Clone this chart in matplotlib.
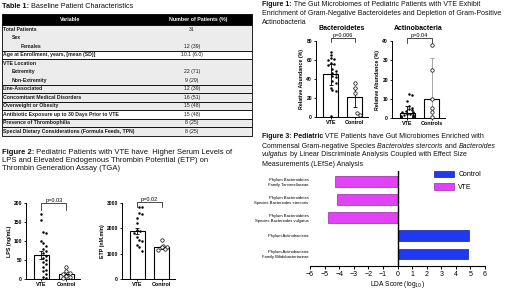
import numpy as np
import matplotlib
matplotlib.use("Agg")
import matplotlib.pyplot as plt
from matplotlib.patches import Rectangle, Patch

plt.rcParams["font.family"] = ["Liberation Sans", "DejaVu Sans"]

W, H = 520, 292

# ---- Table 1 ----
table_vars = [
    "Total Patients", "Sex", "Females",
    "Age at Enrollment, years, [mean (SD)]",
    "VTE Location", "Extremity", "Non-Extremity",
    "Line-Associated", "Concomitant Medical Disorders", "Overweight or Obesity",
    "Antibiotic Exposure up to 30 Days Prior to VTE",
    "Presence of Thrombophilia",
    "Special Dietary Considerations (Formula Feeds, TPN)",
]
table_indent = [0, 1, 2, 0, 0, 1, 1, 0, 0, 0, 0, 0, 0]
table_vals = ["31", "", "12 (39)", "10.1 (6.0)", "", "22 (71)", "9 (29)",
              "12 (39)", "16 (51)", "15 (48)", "15 (48)", "8 (25)", "8 (25)"]
table_groups = [[0, 1, 2], [3], [4, 5, 6], [7], [8], [9], [10], [11], [12]]
white_rows = [3, 10]

# ---- Figure 1 ----
bact_vte = [68, 65, 62, 61, 60, 57, 56, 55, 50, 48, 46, 45, 43, 42, 38, 36, 30, 28, 27, 1]
bact_ctrl = [36, 30, 25, 4, 2]
bact_mean = [45, 21]
bact_err = [11, 10]

actino_vte = [12.5, 12, 9, 6, 5, 4.5, 4, 3.5, 3, 3, 2.5, 2, 2, 1.5, 1.5, 1, 1, 0.5, 0.5, 0.3]
actino_ctrl = [38, 25, 10, 5, 3, 0.5]
actino_mean = [2.5, 10]
actino_err = [3.5, 21]

# ---- Figure 2 ----
lps_vte = [172, 155, 125, 120, 100, 95, 88, 80, 75, 68, 60, 55, 50, 45, 40, 32, 25, 20, 12, 5, 2]
lps_ctrl = [32, 20, 17, 12, 8, 5, 2]
lps_mean = [63, 14]
lps_err = [10, 4]

etp_vte = [2850, 2850, 2600, 2580, 2400, 2200, 1950, 1900, 1800, 1650, 1550, 1500, 1350, 1250, 1100]
etp_ctrl = [1550, 1300, 1280, 1250, 1200, 1150]
etp_mean = [1900, 1250]
etp_err = [130, 70]

# ---- Figure 3 ----
lefse_labels = [
    "Phylum Bacteroidetes\nFamily Tannerellaceae",
    "Phylum Bacteroidetes\nSpecies Bacteriodes stercoris",
    "Phylum Bacteroidetes\nSpecies Bacteriodes vulgatus",
    "Phylum Actinobacteria",
    "Phylum Actinobacteria\nFamily Bifidobacteriaceae",
]
lefse_scores = [-4.3, -4.15, -4.75, 4.9, 4.85]
lefse_group = ["VTE", "VTE", "VTE", "Control", "Control"]
group_colors = {"Control": "#1f38f2", "VTE": "#e142f5"}
group_edges = {"Control": "#1020a0", "VTE": "#9a2aa8"}

fig = plt.figure(figsize=(W / 100, H / 100), dpi=100)
fig.patch.set_facecolor("white")

bg = fig.add_axes([0, 0, 1, 1])
bg.set_xlim(0, W)
bg.set_ylim(H, 0)
bg.axis("off")

renderer = fig.canvas.get_renderer()


def px_axes(x0, y0, x1, y1):
    return fig.add_axes([x0 / W, 1 - y1 / H, (x1 - x0) / W, (y1 - y0) / H])


def rich_line(x, y, parts, size):
    for s, w, st in parts:
        t = bg.text(x, y, s, fontsize=size, fontweight=w, fontstyle=st,
                    va="center", ha="left", color="#111111")
        x += t.get_window_extent(renderer).width


# titles
rich_line(2, 6, [("Table 1:", "bold", "normal"), (" Baseline Patient Characteristics", "normal", "normal")], 5.2)
rich_line(262, 5, [("Figure 1:", "bold", "normal"),
                   (" The Gut Microbiomes of Pediatric Patients with VTE Exhibit", "normal", "normal")], 5)
rich_line(262, 13.5, [("Enrichment of Gram-Negative Bacteroidetes and Depletion of Gram-Positive", "normal", "normal")], 5)
rich_line(262, 22, [("Actinobacteria", "normal", "normal")], 5)

rich_line(2, 153, [("Figure 2:", "bold", "normal"),
                   (" Pediatric Patients with VTE have  Higher Serum Levels of", "normal", "normal")], 5.5)
rich_line(2, 161, [("LPS and Elevated Endogenous Thrombin Potential (ETP) on", "normal", "normal")], 5.5)
rich_line(2, 169, [("Thrombin Generation Assay (TGA)", "normal", "normal")], 5.5)

rich_line(262, 137, [("Figure 3: Pediatric", "bold", "normal"),
                     (" VTE Patients have Gut Microbiomes Enriched with", "normal", "normal")], 5)
rich_line(262, 146, [("Commensal Gram-negative Species ", "normal", "normal"),
                     ("Bacteroides stercoris", "normal", "italic"),
                     (" and ", "normal", "normal"),
                     ("Bacteroides", "normal", "italic")], 5)
rich_line(262, 155, [("vulgatus", "normal", "italic"),
                     (" by Linear Discriminate Analysis Coupled with Effect Size", "normal", "normal")], 5)
rich_line(262, 164, [("Measurements (LEfSe) Analysis", "normal", "normal")], 5)

# ---- table ----
tx0, tx1 = 2, 252
top, head_h, row_h = 14, 11, 8.5
bg.add_patch(Rectangle((tx0, top), tx1 - tx0, head_h, facecolor="black", edgecolor="black", lw=0.6))
bg.text(70, top + head_h / 2, "Variable", color="white", fontsize=3.8, fontweight="bold", ha="center", va="center")
bg.text(198, top + head_h / 2, "Number of Patients (%)", color="white", fontsize=3.8, fontweight="bold",
        ha="center", va="center")
body_top = top + head_h
for grp in table_groups:
    y0 = body_top + grp[0] * row_h
    fc = "white" if grp[0] in white_rows else "#ececec"
    bg.add_patch(Rectangle((tx0, y0), tx1 - tx0, row_h * len(grp), facecolor=fc, edgecolor="black", lw=0.6))
for i, (name, ind, val) in enumerate(zip(table_vars, table_indent, table_vals)):
    yc = body_top + (i + 0.5) * row_h
    bg.text(3 + 9 * ind, yc, name, fontsize=3.7, fontweight="bold", ha="left", va="center", color="#1a1a1a")
    bg.text(192, yc, val, fontsize=3.7, ha="center", va="center", color="#1a1a1a")


# ---- dot-bar panels ----
def swarm_x(vals, center, step, binw, half):
    # points in the same height band are spread out from the centre, alternating sides
    vals = np.asarray(vals, float)
    bins = np.floor(vals / binw).astype(int)
    xs = np.full(len(vals), float(center))
    for b in np.unique(bins):
        idx = np.where(bins == b)[0]
        for k, i in enumerate(idx):
            off = ((k + 1) // 2) * step * (1 if k % 2 else -1)
            if len(idx) % 2 == 0:
                off += step / 2
            xs[i] = center + np.clip(off, -half, half)
    return xs


def dot_bar(ax, vte, ctrl, means, errs, ymax, yticks, ylabel, xlabels, ptext, pbar, ctrl_err_color="black"):
    ax.bar([0, 1], means, width=0.62, facecolor="white", edgecolor="black", lw=0.8, zorder=1)
    ax.errorbar([0], [means[0]], yerr=[errs[0]], fmt="none", ecolor="black", elinewidth=0.6, capsize=1.5,
                capthick=0.6, zorder=3)
    ax.errorbar([1], [means[1]], yerr=[errs[1]], fmt="none", ecolor=ctrl_err_color, elinewidth=0.6,
                capsize=1.5, capthick=0.6, zorder=3)
    binw = ymax * 0.06
    ax.scatter(swarm_x(vte, 0, 0.13, binw, 0.25), vte, s=3.2, color="black", zorder=4, linewidths=0,
               clip_on=False)
    ax.scatter(swarm_x(ctrl, 1, 0.15, binw, 0.25), ctrl, s=6, facecolor="white", edgecolor="black",
               linewidths=0.5, zorder=4, clip_on=False)
    ax.set_xlim(-0.62, 1.55)
    ax.set_ylim(0, ymax)
    ax.set_yticks(yticks)
    ax.set_xticks([0, 1])
    ax.set_xticklabels(xlabels, fontweight="bold")
    ax.set_ylabel(ylabel, fontsize=3.8, fontweight="bold", labelpad=1.5)
    for side in ["top", "right"]:
        ax.spines[side].set_visible(False)
    for side in ["left", "bottom"]:
        ax.spines[side].set_linewidth(0.7)
    ax.tick_params(axis="both", labelsize=3.6, length=1.8, width=0.6, pad=1)
    ax.tick_params(axis="x", labelsize=3.9, length=1.2)
    for lab in ax.get_yticklabels():
        lab.set_fontweight("bold")
    yb, leg = pbar
    ax.plot([0, 0, 1, 1], [yb - leg, yb, yb, yb - leg], color="black", lw=0.5, clip_on=False)
    ax.text(0.5, yb, ptext, fontsize=4, ha="center", va="bottom", clip_on=False)


ax_b = px_axes(316, 41, 368, 117)
dot_bar(ax_b, bact_vte, bact_ctrl, bact_mean, bact_err, 80, [0, 20, 40, 60, 80],
        "Relative Abundance (%)", ["VTE", "Control"], "p=0.006", (83, 4))
ax_b.set_title("Bacteroidetes", fontsize=5, fontweight="bold", pad=8)

ax_a = px_axes(392, 41, 445, 118)
dot_bar(ax_a, actino_vte, actino_ctrl, actino_mean, actino_err, 40, [0, 10, 20, 30, 40],
        "Relative Abundance (%)", ["VTE", "Controls"], "p=0.04", (41.5, 2.5), ctrl_err_color="#999999")
ax_a.set_title("Actinobacteria", fontsize=5, fontweight="bold", pad=8)

ax_l = px_axes(26, 203, 80, 279)
dot_bar(ax_l, lps_vte, lps_ctrl, lps_mean, lps_err, 200, [0, 50, 100, 150, 200],
        "LPS (ng/mL)", ["VTE", "Control"], "p=0.03", (200, 18))

ax_e = px_axes(122, 203, 175, 279)
dot_bar(ax_e, etp_vte, etp_ctrl, etp_mean, etp_err, 3000, [0, 1000, 2000, 3000],
        "ETP (nM.min)", ["VTE", "Control"], "p=0.02", (3030, 180))

# ---- LEfSe ----
ax3 = px_axes(310, 171, 485, 266)
ypos = np.arange(len(lefse_scores))
ax3.barh(ypos, lefse_scores, height=0.6,
         color=[group_colors[g] for g in lefse_group],
         edgecolor=[group_edges[g] for g in lefse_group], lw=0.5)
ax3.axvline(0, color="black", lw=1.0)
ax3.set_xlim(-6, 6)
ax3.set_ylim(4.67, -0.6)
ax3.set_yticks(ypos)
ax3.set_yticklabels(lefse_labels, fontsize=3)
ax3.set_xticks(range(-6, 7))
ax3.tick_params(axis="y", length=0, pad=1)
ax3.tick_params(axis="x", labelsize=5, length=2.5, width=0.7, pad=0.8)
for side in ["top", "right", "left"]:
    ax3.spines[side].set_visible(False)
ax3.spines["bottom"].set_linewidth(0.8)
ax3.set_xlabel("LDA Score (log$_{10}$)", fontsize=4.8, labelpad=0.8)
handles = [Patch(facecolor=group_colors[g], edgecolor=group_edges[g], lw=0.5, label=g) for g in ["Control", "VTE"]]
ax3.legend(handles=handles, loc="upper left", bbox_to_anchor=(0.709, 1.0), frameon=False, fontsize=5,
           handlelength=2.9, handleheight=1.0, labelspacing=0.7, handletextpad=0.6, borderpad=0,
           borderaxespad=0)

fig.savefig("out.png", dpi=100)
